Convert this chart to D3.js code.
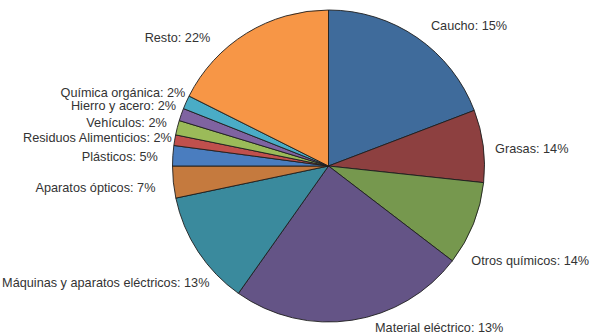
<!DOCTYPE html>
<html><head><meta charset="utf-8">
<script src="https://cdn.jsdelivr.net/npm/d3@7"></script>
<style>html,body{margin:0;padding:0;background:#fff;overflow:hidden}</style>
</head><body>
<svg id="chart" width="594" height="335"></svg>
<script>
// Data (slice sizes; label texts as printed)
const categories = ["Caucho","Grasas","Otros químicos","Material eléctrico","Máquinas y aparatos eléctricos","Aparatos ópticos","Plásticos","Residuos Alimenticios","Vehículos","Hierro y acero","Química orgánica","Resto"];
const sliceValues = [19.2, 7.5, 8.7, 24.4, 11.9, 3.3, 2.1, 1.1, 1.5, 1.3, 1.4, 17.6];
const labelPercents = ["15%","14%","14%","13%","13%","7%","5%","2%","2%","2%","2%","22%"];
const colors = ["#3f6b9b","#8d4040","#76984e","#645486","#3a8a9d","#c57a3e","#4a7dbf","#c0504d","#9bbb59","#7f63a1","#4aacc6","#f79646"];
// label nudges (layout only) [dx, dy]
const labelNudge = [[6,0],[-2,4],[-15,31],[21,-6.5],[23,23],[-4,4],[-1,2],[11,0],[3,-2],[8,-4],[12,-3.5],[-29,16]];

const svg = d3.select("#chart");
const cx = 328.5, cy = 166, r = 156, rl = 170;
const g = svg.append("g").attr("transform", `translate(${cx},${cy})`);

const pie = d3.pie().sort(null).value(d => d.v);
const data = categories.map((c, i) => ({c, v: sliceValues[i], p: labelPercents[i], i}));
const arcs = pie(data);
const arc = d3.arc().innerRadius(0).outerRadius(r);

g.selectAll("path.slice").data(arcs).join("path")
  .attr("class","slice")
  .attr("d", arc)
  .attr("fill", d => colors[d.data.i])
  .attr("stroke", "#1e1e1e")
  .attr("stroke-width", 0.9)
  .attr("stroke-linejoin","round");

g.selectAll("text.lbl").data(arcs).join("text")
  .attr("class","lbl")
  .each(function(d){
    const a = (d.startAngle + d.endAngle) / 2;
    const x = rl * Math.sin(a) + labelNudge[d.data.i][0];
    const y = -rl * Math.cos(a) + labelNudge[d.data.i][1];
    d3.select(this)
      .attr("x", x).attr("y", y)
      .attr("dy", "0.35em")
      .attr("text-anchor", a < Math.PI ? "start" : "end");
  })
  .attr("font-family", "'Liberation Sans', Arial, Helvetica, sans-serif")
  .attr("font-size", 12.7)
  .attr("fill", "#333")
  .text(d => `${d.data.c}: ${d.data.p}`);
</script>
</body></html>
